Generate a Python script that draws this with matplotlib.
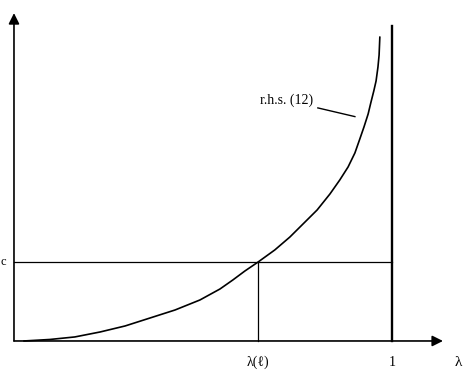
import matplotlib
matplotlib.use("Agg")
import matplotlib.pyplot as plt

# Curve "r.h.s. (12)" (lambda, value), value normalised so that c = 1
curve_lam = [0.026, 0.095, 0.161, 0.228, 0.294, 0.360, 0.426, 0.492, 0.545, 0.579,
             0.611, 0.646, 0.690, 0.730, 0.770, 0.802, 0.836, 0.862, 0.884, 0.902,
             0.915, 0.926, 0.937, 0.944, 0.952, 0.958, 0.963, 0.966, 0.968]
curve_val = [0.000, 0.019, 0.051, 0.114, 0.190, 0.291, 0.392, 0.519, 0.658, 0.772,
             0.886, 1.000, 1.152, 1.316, 1.506, 1.658, 1.861, 2.038, 2.203, 2.380,
             2.557, 2.709, 2.873, 3.013, 3.165, 3.291, 3.468, 3.620, 3.848]

c_level = 1.0
lam_star = 0.646
lam_one = 1.0
one_top = 3.99
x_axis_end = 1.135
y_axis_end = 4.15

tick_labels = ["λ(ℓ)", "1"]
axis_label = "λ"
curve_label = "r.h.s. (12)"
c_label = "c"

serif = ["Liberation Serif", "DejaVu Serif"]

fig = plt.figure(figsize=(4.63, 3.77), dpi=100)
ax = fig.add_axes([0, 0, 1, 1])
ax.set_xlim(-0.037, 1.188)
ax.set_ylim(-0.456, 4.316)
ax.axis("off")

# axes with arrows
ax.annotate("", xy=(x_axis_end, 0), xytext=(0, 0),
            arrowprops=dict(arrowstyle="-|>", color="black", lw=1.2,
                            mutation_scale=16, shrinkA=0, shrinkB=0))
ax.annotate("", xy=(0, y_axis_end), xytext=(0, 0),
            arrowprops=dict(arrowstyle="-|>", color="black", lw=1.2,
                            mutation_scale=16, shrinkA=0, shrinkB=0))

# curve
ax.plot(curve_lam, curve_val, color="black", lw=1.2, solid_capstyle="round",
        solid_joinstyle="round")

# horizontal c line and verticals
ax.plot([0, lam_one], [c_level, c_level], color="black", lw=0.9)
ax.plot([lam_star, lam_star], [0, c_level], color="black", lw=0.9)
ax.plot([lam_one, lam_one], [0, one_top], color="black", lw=1.7)

# leader line for curve label
ax.plot([0.804, 0.902], [2.95, 2.84], color="black", lw=1.0)
ax.text(0.72, 3.05, curve_label, ha="center", va="center", fontsize=10, family=serif)

# tick labels
ax.text(lam_star, -0.27, tick_labels[0], ha="center", va="center", fontsize=10, family=serif)
ax.text(lam_one, -0.27, tick_labels[1], ha="center", va="center", fontsize=10, family=serif)
ax.text(1.186, -0.27, axis_label, ha="right", va="center", fontsize=11, family=serif)
ax.text(-0.036, c_level, c_label, ha="left", va="center", fontsize=9, family=serif)

fig.savefig("out.png", dpi=100)
